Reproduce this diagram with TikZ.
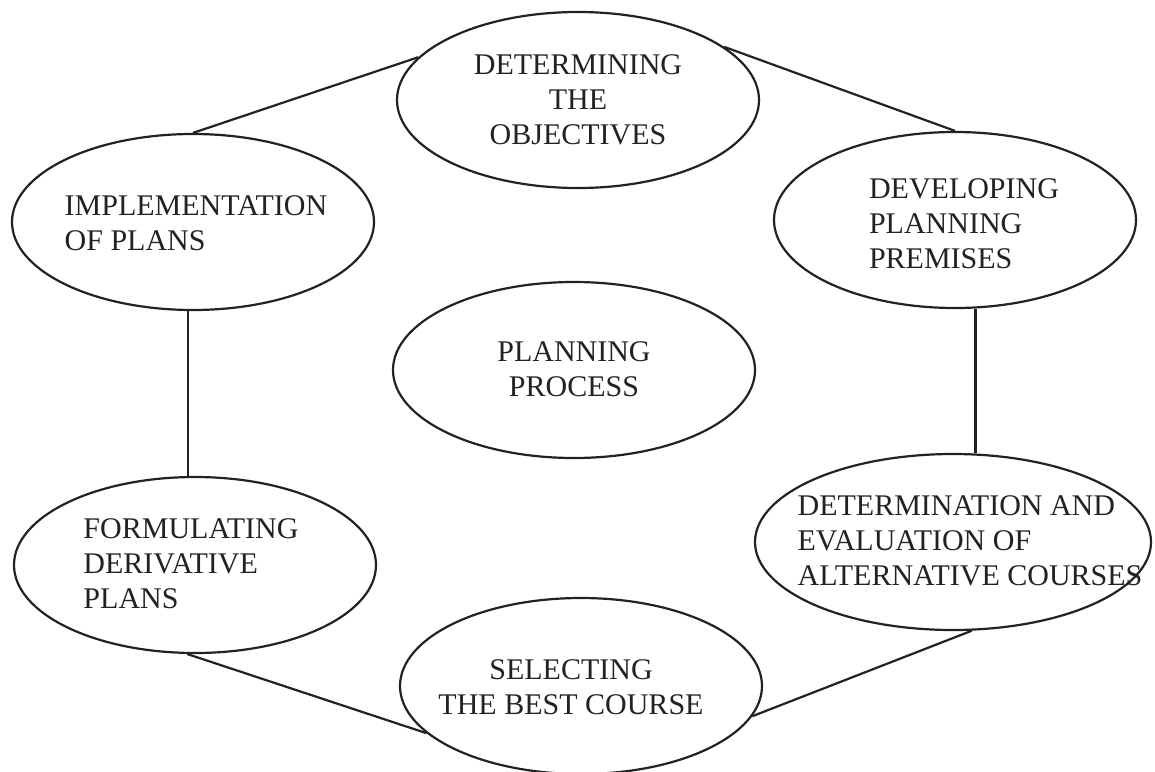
\documentclass[tikz,border=0pt]{standalone}
\usepackage{fontspec}
\setmainfont{Liberation Serif}
\usetikzlibrary{shapes.geometric}
\newcommand\dfont{\fontsize{30}{35}\selectfont}
\definecolor{ink}{HTML}{222222}
\tikzset{
  ell/.style={draw=ink, ellipse, line width=2.2pt, minimum width=362pt, minimum height=176pt, inner sep=0pt},
  txt/.style={font=\dfont, align=left, inner sep=0pt, text=ink},
  txc/.style={font=\dfont, align=center, inner sep=0pt, text=ink},
  conn/.style={draw=ink, line width=2.2pt}
}
\begin{document}
\begin{tikzpicture}[x=1pt, y=-1pt]
\useasboundingbox (0,0) rectangle (1155,771);
\node[ell, label={[txc]center:{DETERMINING\\THE\\OBJECTIVES}}] (top) at (578,100) {};
\node[ell, label={[txt, xshift=3pt, yshift=-1.5pt]center:{IMPLEMENTATION\\OF PLANS}}] (impl) at (193,222) {};
\node[ell, label={[txt, xshift=9pt, yshift=-3.5pt]center:{DEVELOPING\\PLANNING\\PREMISES}}] (dev) at (955,220) {};
\node[ell, label={[txc, yshift=1pt]center:{PLANNING\\PROCESS}}] (cen) at (574,370) {};
\node[ell, label={[txt, xshift=-4pt, yshift=1pt]center:{FORMULATING\\DERIVATIVE\\PLANS}}] (form) at (195,565) {};
\node[ell, minimum width=396pt, label={[txt, xshift=17pt, yshift=1.5pt]center:{DETERMINATION AND\\EVALUATION OF\\ALTERNATIVE COURSES}}] (det) at (953,542) {};
\node[ell, label={[txc, xshift=-10pt, yshift=-1.5pt]center:{SELECTING\\THE BEST COURSE}}] (sel) at (581,686) {};
\draw[conn] (top.165) -- (impl.north);
\draw[conn] (top.20) -- (dev.north);
\draw[conn] (dev.-77) -- (dev.-77 |- det.north);
\draw[conn] (impl.-93) -- (impl.-93 |- form.north);
\draw[conn] (form.-95) -- (sel.197);
\draw[conn] (det.-78) -- (sel.-10);
\end{tikzpicture}
\end{document}
